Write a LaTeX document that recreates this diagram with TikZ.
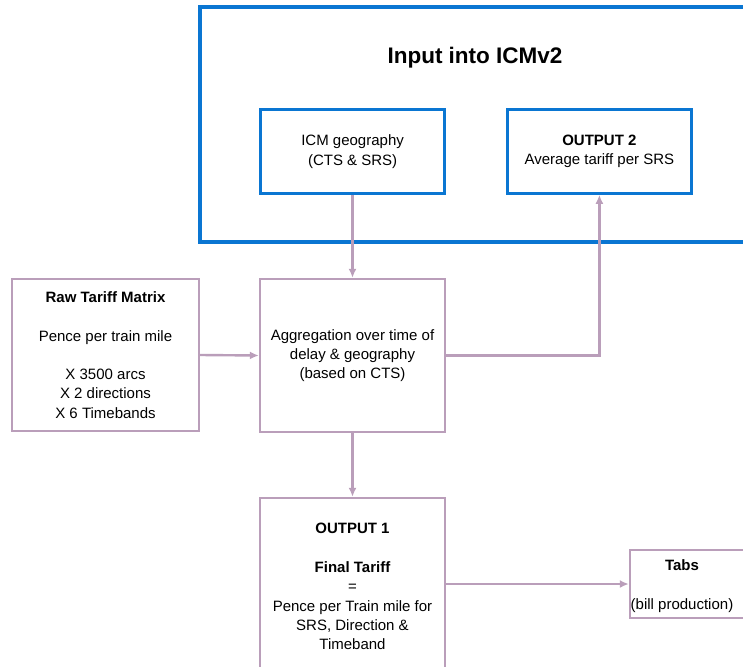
\documentclass[tikz,border=0pt]{standalone}
\usepackage{fontspec}
\setmainfont{Liberation Sans}
\usetikzlibrary{arrows.meta}
\definecolor{frameblue}{RGB}{10,118,210}
\definecolor{mauve}{RGB}{186,158,186}
\tikzset{
  bluebox/.style={draw=frameblue, line width=2.6pt, rectangle, inner sep=0pt, align=center, text=black},
  flowbox/.style={draw=mauve, line width=2.4pt, rectangle, inner sep=0pt, align=center, text=black},
  link/.style={draw=mauve, line width=2.4pt, -{Latex[length=9pt,width=8pt]}},
  bodytext/.style={font=\fontsize{15}{19.3}\selectfont},
}
\begin{document}
\begin{tikzpicture}[x=1pt, y=-1pt, bodytext]
\useasboundingbox (0,0) rectangle (743,666);
\clip (0,0) rectangle (743,666);

% outer frame of the ICMv2 inputs
\node[draw=frameblue, line width=4pt, minimum width=600pt, minimum height=235pt, inner sep=0pt] (frame) at (500,124.5) {};
\node[font=\fontsize{22.5}{27}\selectfont\bfseries] (title) at (475,58) {Input into ICMv2};

\node[bluebox, minimum width=184pt, minimum height=84pt] (geo) at (352.6,151.5)
  {ICM geography\\(CTS \& SRS)};
\node[bluebox, minimum width=184pt, minimum height=84pt] (out2) at (599.4,151.5)
  {\textbf{OUTPUT 2}\\Average tariff per SRS};

% processing chain
\node[flowbox, minimum width=187pt, minimum height=152pt] (raw) at (105.5,355)
  {\textbf{Raw Tariff Matrix}\\[19.3pt]Pence per train mile\\[19.3pt]X 3500 arcs\\X 2 directions\\X 6 Timebands};
\node[flowbox, minimum width=185pt, minimum height=153pt] (agg) at (352.5,355.5)
  {Aggregation over time of\\delay \& geography\\(based on CTS)};
\node[flowbox, minimum width=185pt, minimum height=177pt] (out1) at (352.5,586.5)
  {\textbf{OUTPUT 1}\\[19.5pt]\textbf{Final Tariff}\\=\\Pence per Train mile for\\SRS, Direction \&\\Timeband};
\node[flowbox, minimum width=140pt, minimum height=68pt] (tabs) at (700,584) {};
\node[align=center, inner sep=0pt] (tabstext) at (682,586)
  {\textbf{Tabs}\\[19.3pt](bill production)};

% connectors
\draw[link] (agg.north |- geo.south) -- (agg.north);
\draw[link] (raw.east) -- (agg.west);
\draw[link] (agg.east) -- (out2.south |- agg.east) -- (out2.south);
\draw[link] (agg.south) -- (out1.north);
\draw[link] (out1.east |- tabs.west) -- (tabs.west);
\end{tikzpicture}
\end{document}
